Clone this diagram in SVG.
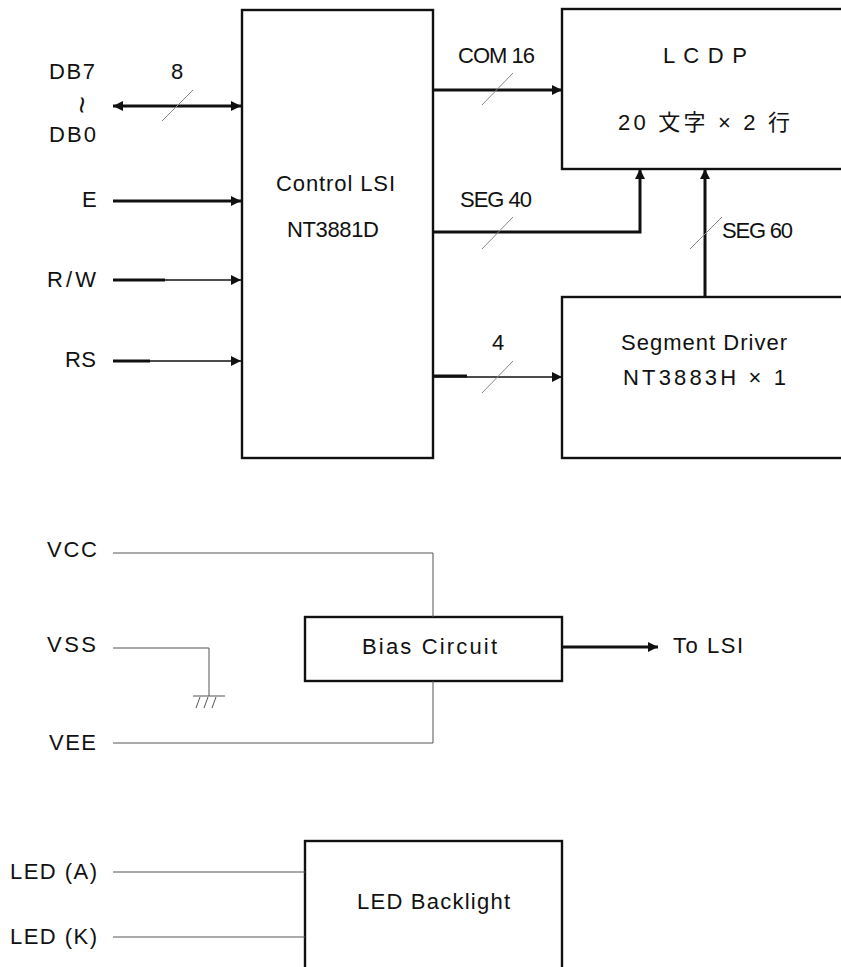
<svg xmlns="http://www.w3.org/2000/svg" width="841" height="967" viewBox="0 0 841 967">
<defs>
<style>
text{font-family:"Liberation Sans",Arial,"Noto Sans CJK JP",sans-serif;font-size:22px;fill:#111}
.tl{font-size:30px}
.box{fill:#fff;stroke:#111;stroke-width:2.4}
.bus{fill:none;stroke:#111;stroke-width:3}
.sig{fill:none;stroke:#111;stroke-width:1.6}
.thin{fill:none;stroke:#555;stroke-width:1}
.slash{fill:none;stroke:#888;stroke-width:1}
</style>
<marker id="ah" viewBox="0 0 10 10" refX="10" refY="5" markerWidth="10" markerHeight="10" markerUnits="userSpaceOnUse" orient="auto-start-reverse">
<path d="M0,0 L10,5 L0,10 Z" fill="#111"/>
</marker>
</defs>
<rect width="841" height="967" fill="#fff"/>

<g id="control-lsi">
<rect class="box" x="242" y="10" width="191" height="448"/>
<text x="276" y="191" textLength="119" lengthAdjust="spacing">Control LSI</text>
<text x="287" y="237" textLength="92" lengthAdjust="spacing">NT3881D</text>
</g>

<g id="lcdp">
<rect class="box" x="562" y="9" width="300" height="160"/>
<text x="663" y="63" textLength="84" lengthAdjust="spacing">L C D P</text>
<text x="618" y="130" textLength="172" lengthAdjust="spacing">20 文字 × 2 行</text>
</g>

<g id="segment-driver">
<rect class="box" x="562" y="297" width="300" height="161"/>
<text x="621" y="350" textLength="166" lengthAdjust="spacing">Segment Driver</text>
<text x="623" y="385" textLength="163" lengthAdjust="spacing">NT3883H × 1</text>
</g>

<g id="bias-circuit">
<rect class="box" x="305" y="617" width="257" height="64"/>
<text x="362" y="654" textLength="135" lengthAdjust="spacing">Bias Circuit</text>
</g>

<g id="led-backlight">
<rect class="box" x="305" y="841" width="257" height="140"/>
<text x="357" y="909" textLength="153" lengthAdjust="spacing">LED Backlight</text>
</g>

<g id="labels">
<text x="49" y="79" textLength="46" lengthAdjust="spacing">DB7</text>
<text class="tl" x="82" y="105" transform="rotate(90 82 105)" text-anchor="middle" dominant-baseline="central">~</text>
<text x="49" y="142" textLength="47" lengthAdjust="spacing">DB0</text>
<text x="171" y="79">8</text>
<text x="82" y="207" textLength="13" lengthAdjust="spacing">E</text>
<text x="47" y="287" textLength="49" lengthAdjust="spacing">R/W</text>
<text x="65" y="367" textLength="31" lengthAdjust="spacing">RS</text>
<text x="458" y="63" textLength="77" lengthAdjust="spacing">COM 16</text>
<text x="460" y="207" textLength="72" lengthAdjust="spacing">SEG 40</text>
<text x="722" y="238" textLength="71" lengthAdjust="spacing">SEG 60</text>
<text x="492" y="350">4</text>
<text x="47" y="557" textLength="50" lengthAdjust="spacing">VCC</text>
<text x="47" y="652" textLength="49" lengthAdjust="spacing">VSS</text>
<text x="49" y="750" textLength="47" lengthAdjust="spacing">VEE</text>
<text x="673" y="653" textLength="70" lengthAdjust="spacing">To LSI</text>
<text x="10" y="879" textLength="87" lengthAdjust="spacing">LED (A)</text>
<text x="10" y="944" textLength="87" lengthAdjust="spacing">LED (K)</text>
</g>

<g id="connectors">
<line class="bus" x1="113" y1="106" x2="241" y2="106" marker-start="url(#ah)" marker-end="url(#ah)"/>
<line class="slash" x1="162" y1="121" x2="193" y2="90"/>
<line class="bus" x1="113" y1="201" x2="241" y2="201" marker-end="url(#ah)"/>
<line class="bus" x1="113" y1="280" x2="165" y2="280"/>
<line class="sig" x1="113" y1="280" x2="241" y2="280" marker-end="url(#ah)"/>
<line class="bus" x1="113" y1="361" x2="150" y2="361"/>
<line class="sig" x1="113" y1="361" x2="241" y2="361" marker-end="url(#ah)"/>

<line class="bus" x1="433" y1="90" x2="562" y2="90" marker-end="url(#ah)"/>
<line class="slash" x1="482" y1="105" x2="513" y2="73"/>
<polyline class="bus" points="433,232 640,232 640,169" marker-end="url(#ah)"/>
<line class="slash" x1="482" y1="249" x2="513" y2="217"/>
<line class="bus" x1="705" y1="297" x2="705" y2="169" marker-end="url(#ah)"/>
<line class="slash" x1="690" y1="249" x2="722" y2="217"/>
<line class="bus" x1="433" y1="376" x2="467" y2="376"/>
<line class="sig" x1="433" y1="377" x2="562" y2="377" marker-end="url(#ah)"/>
<line class="slash" x1="482" y1="393" x2="513" y2="361"/>

<polyline class="thin" points="113,553 433,553 433,617"/>
<polyline class="thin" points="113,648 209,648 209,696"/>
<line class="thin" x1="193" y1="696" x2="225" y2="696"/>
<line class="thin" x1="200" y1="697" x2="196" y2="708"/>
<line class="thin" x1="208" y1="697" x2="204" y2="708"/>
<line class="thin" x1="216" y1="697" x2="212" y2="708"/>
<polyline class="thin" points="113,743 433,743 433,681"/>
<line class="bus" x1="562" y1="647" x2="658" y2="647" stroke-width="2.5" marker-end="url(#ah)"/>

<line class="thin" x1="113" y1="872" x2="305" y2="872"/>
<line class="thin" x1="113" y1="937" x2="305" y2="937"/>
</g>
</svg>
